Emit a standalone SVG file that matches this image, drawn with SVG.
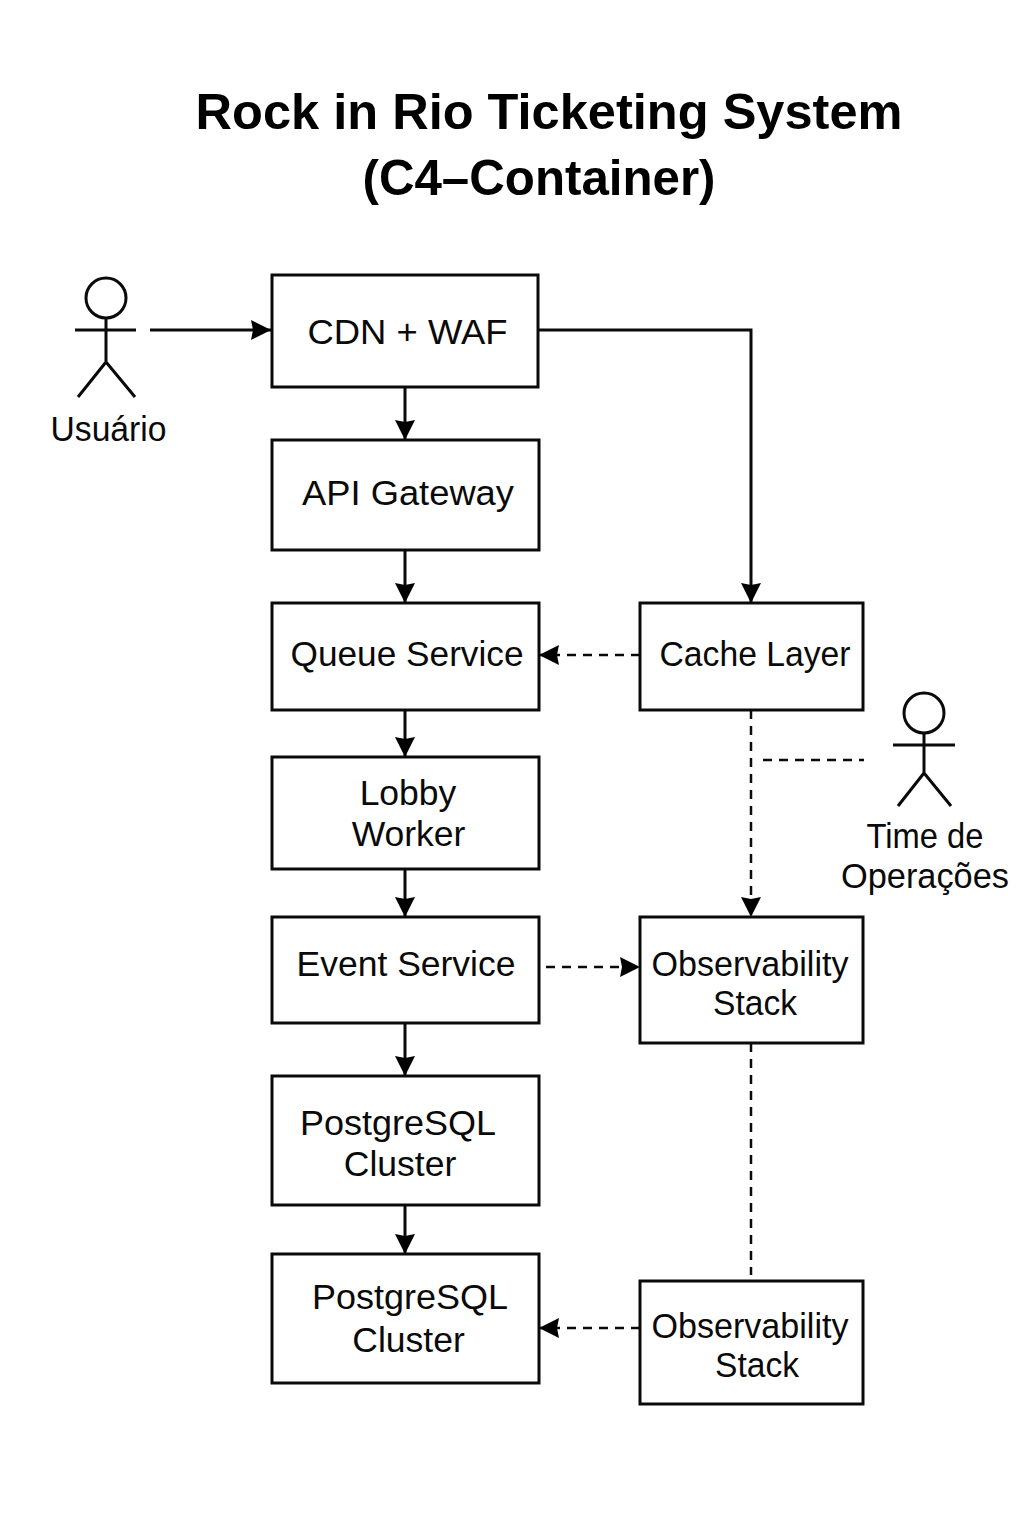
<svg xmlns="http://www.w3.org/2000/svg" width="1024" height="1536" viewBox="0 0 1024 1536">
<style>
text{font-family:"Liberation Sans",Arial,sans-serif;fill:#0a0a0a;text-anchor:middle}
.t{font-size:50px;font-weight:700;fill:#000}
.l{font-size:35.5px}
.b{fill:#fff;stroke:#0a0a0a;stroke-width:3}
.c{fill:none;stroke:#0a0a0a;stroke-width:3}
.d{fill:none;stroke:#0a0a0a;stroke-width:2.5;stroke-dasharray:9 7}
</style>
<defs><marker id="a" markerUnits="userSpaceOnUse" markerWidth="22" markerHeight="22" refX="20" refY="10" orient="auto"><path d="M0 0L20 10L0 20L2 10Z" fill="#000"/></marker></defs>
<rect width="1024" height="1536" fill="#fff"/>
<g id="title"><text class="t" x="549" y="129" textLength="707" lengthAdjust="spacingAndGlyphs">Rock in Rio Ticketing System</text><text class="t" x="539" y="195" textLength="353" lengthAdjust="spacingAndGlyphs">(C4–Container)</text></g>
<g id="connectors">
<path class="c" marker-end="url(#a)" d="M150 330H271"/>
<path class="c" marker-end="url(#a)" d="M539 330H751V603"/>
<path class="c" marker-end="url(#a)" d="M405 387V440"/>
<path class="c" marker-end="url(#a)" d="M405 550V603"/>
<path class="c" marker-end="url(#a)" d="M405 710V757"/>
<path class="c" marker-end="url(#a)" d="M405 869V917"/>
<path class="c" marker-end="url(#a)" d="M405 1023V1076"/>
<path class="c" marker-end="url(#a)" d="M405 1205V1254"/>
<path class="d" marker-end="url(#a)" d="M640 655H539"/>
<path class="d" marker-end="url(#a)" d="M751 710V917"/>
<path class="d" d="M763 760H864"/>
<path class="d" marker-end="url(#a)" d="M546 967H640"/>
<path class="d" d="M751 1043V1275"/>
<path class="d" marker-end="url(#a)" d="M640 1328H539"/>
</g>
<g id="user"><circle class="c" cx="106" cy="298" r="20"/><path class="c" d="M106 318V362M75 330H136M106 362L78 397M106 362L135 397"/><text class="l" x="108.500" y="441" textLength="116" lengthAdjust="spacingAndGlyphs">Usuário</text></g>
<g id="ops"><circle class="c" cx="924" cy="713" r="20"/><path class="c" d="M924 733V773M893 745H955M924 773L898 806M924 773L951 806"/><text class="l" x="925" y="848" textLength="117" lengthAdjust="spacingAndGlyphs">Time de</text><text class="l" x="925" y="888" textLength="168" lengthAdjust="spacingAndGlyphs">Operações</text></g>
<g id="cdn"><rect class="b" x="272" y="275" width="266" height="112"/><text class="l" x="407.500" y="344" textLength="200" lengthAdjust="spacingAndGlyphs">CDN + WAF</text></g>
<g id="api"><rect class="b" x="272" y="440" width="267" height="110"/><text class="l" x="408" y="505" textLength="212" lengthAdjust="spacingAndGlyphs">API Gateway</text></g>
<g id="queue"><rect class="b" x="272" y="603" width="267" height="107"/><text class="l" x="407" y="666" textLength="233" lengthAdjust="spacingAndGlyphs">Queue Service</text></g>
<g id="lobby"><rect class="b" x="272" y="757" width="267" height="112"/><text class="l" x="408" y="805">Lobby</text><text class="l" x="408.500" y="846">Worker</text></g>
<g id="event"><rect class="b" x="272" y="917" width="267" height="106"/><text class="l" x="406" y="976">Event Service</text></g>
<g id="pg1"><rect class="b" x="272" y="1076" width="267" height="129"/><text class="l" x="398" y="1135" textLength="196" lengthAdjust="spacingAndGlyphs">PostgreSQL</text><text class="l" x="400" y="1176">Cluster</text></g>
<g id="pg2"><rect class="b" x="272" y="1254" width="267" height="129"/><text class="l" x="410" y="1309" textLength="196" lengthAdjust="spacingAndGlyphs">PostgreSQL</text><text class="l" x="408.500" y="1352">Cluster</text></g>
<g id="cache"><rect class="b" x="640" y="603" width="223" height="107"/><text class="l" x="755" y="666" textLength="191" lengthAdjust="spacingAndGlyphs">Cache Layer</text></g>
<g id="obs1"><rect class="b" x="640" y="917" width="223" height="126"/><text class="l" x="750" y="976" textLength="197" lengthAdjust="spacingAndGlyphs">Observability</text><text class="l" x="755" y="1015" textLength="84" lengthAdjust="spacingAndGlyphs">Stack</text></g>
<g id="obs2"><rect class="b" x="640" y="1281" width="223" height="123"/><text class="l" x="750" y="1338" textLength="197" lengthAdjust="spacingAndGlyphs">Observability</text><text class="l" x="757" y="1377" textLength="84" lengthAdjust="spacingAndGlyphs">Stack</text></g>
</svg>
